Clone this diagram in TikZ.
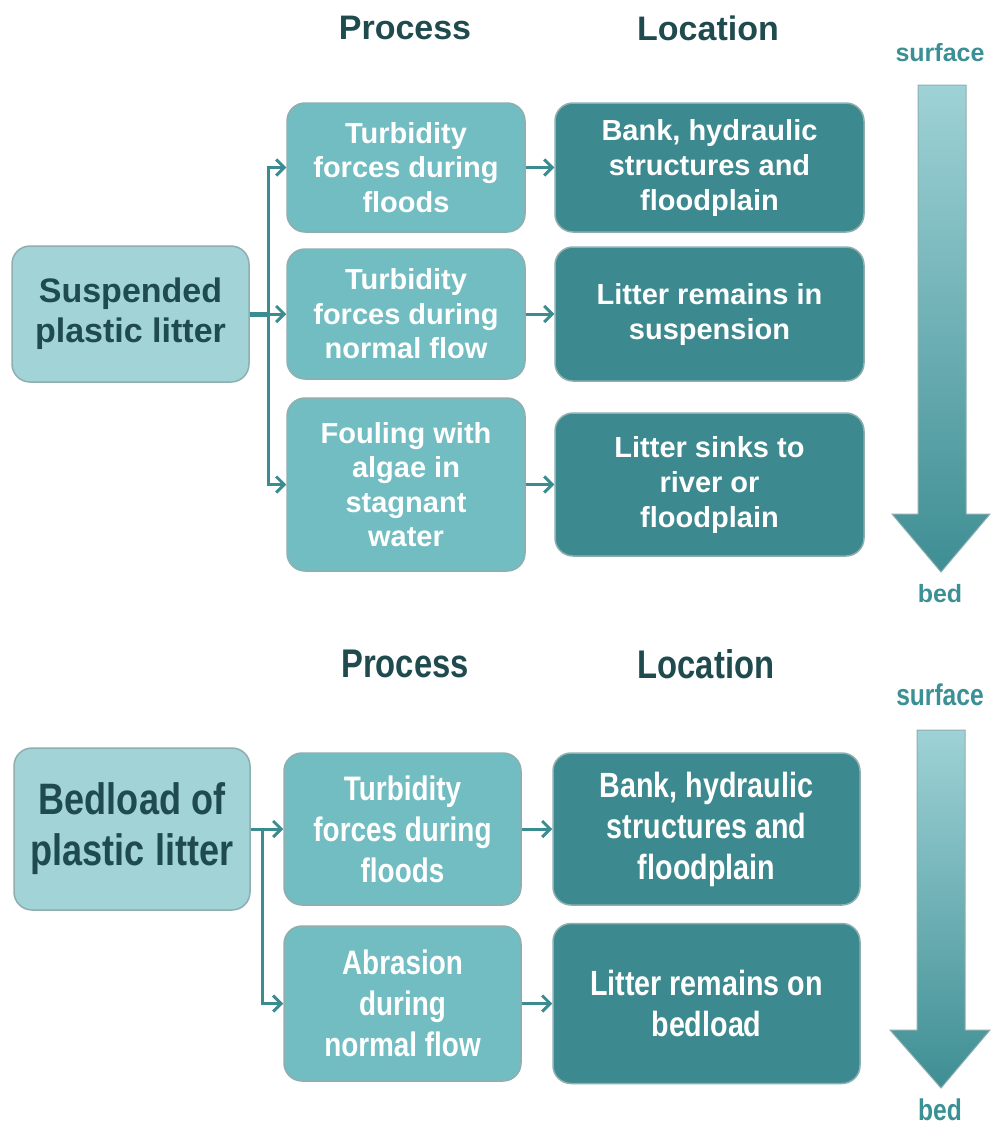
\documentclass[tikz,border=0pt]{standalone}
\usepackage{fontspec}
\setmainfont{Liberation Sans}
\newfontfamily\narrowsf[FakeStretch=0.82]{Liberation Sans}
\usepackage{xcolor}
\usetikzlibrary{shapes,arrows.meta,positioning}

\definecolor{srcfill}{HTML}{A1D3D7}
\definecolor{procfill}{HTML}{71BDC2}
\definecolor{locfill}{HTML}{3C8A8F}
\definecolor{boxline}{HTML}{8EAEB0}
\definecolor{darktxt}{HTML}{1F4A4E}
\definecolor{linkcol}{HTML}{3A8C91}
\definecolor{leveltxt}{HTML}{3A9095}
\definecolor{arrowtop}{HTML}{9ED2D6}
\definecolor{arrowbot}{HTML}{3E8E93}

\begin{document}
\begin{tikzpicture}[x=1pt, y=-1pt, >={Straight Barb[length=8pt,width=16pt]},
    box/.style={draw=boxline, line width=1.5pt, rounded corners=18pt, align=center, inner sep=0pt, font=\bfseries},
    src/.style={box, fill=srcfill, text=darktxt},
    proc/.style={box, fill=procfill, text=white, minimum width=238pt},
    loc/.style={box, fill=locfill, text=white, minimum width=309pt},
    link/.style={draw=linkcol, line width=3pt},
    colhead/.style={text=darktxt, font=\bfseries},
    levellabel/.style={text=leveltxt, font=\bfseries, inner sep=1pt}]
    \useasboundingbox (0,0) rectangle (991,1127);

    % suspended litter
    \node[colhead, font=\bfseries\fontsize{34}{40}\selectfont] (headP1) at (405,28) {Process};
    \node[colhead, font=\bfseries\fontsize{34}{40}\selectfont] (headL1) at (708,28) {Location};
    \node[src, minimum width=237pt, minimum height=136pt, font=\bfseries\fontsize{34}{40}\selectfont] (susp) at (130.5,314) {Suspended\\plastic litter};
    \node[proc, minimum height=129pt, font=\bfseries\fontsize{29}{34.5}\selectfont] (p1) at (406,167.5) {Turbidity\\forces during\\floods};
    \node[proc, minimum height=130pt, below of=p1, node distance=146.5pt, font=\bfseries\fontsize{29}{34.5}\selectfont] (p2) {Turbidity\\forces during\\normal flow};
    \node[proc, minimum height=173pt, below of=p2, node distance=170.5pt, font=\bfseries\fontsize{29}{34.5}\selectfont] (p3) {Fouling with\\algae in\\stagnant\\water};
    \node[loc, minimum height=129pt, right of=p1, node distance=303.5pt, font=\bfseries\fontsize{29}{35}\selectfont] (l1) {Bank, hydraulic\\structures and\\floodplain};
    \node[loc, minimum height=134pt, right of=p2, node distance=303.5pt, font=\bfseries\fontsize{29}{35}\selectfont] (l2) {Litter remains in\\suspension};
    \node[loc, minimum height=143pt, right of=p3, node distance=303.5pt, font=\bfseries\fontsize{29}{35}\selectfont] (l3) {Litter sinks to\\river or\\floodplain};

    \coordinate (jsusp) at (268,314);
    \draw[link, line width=5pt] (susp.east) -- (jsusp);
    \draw[link, ->] (jsusp) |- (p1.west);
    \draw[link, ->] (jsusp) -- (p2.west);
    \draw[link, ->] (jsusp) |- (p3.west);
    \draw[link, ->] (p1) -- (l1);
    \draw[link, ->] (p2) -- (l2);
    \draw[link, ->] (p3) -- (l3);

    \node[levellabel, font=\bfseries\fontsize{25}{30}\selectfont] (surf1) at (940,53) {surface};
    \node[levellabel, font=\bfseries\fontsize{25}{30}\selectfont] (bed1) at (940,594) {bed};
    \shade[top color=arrowtop, bottom color=arrowbot, draw=boxline, line width=1pt]
        (918,85) -- (966,85) -- (966,514) -- (990,514) -- (941,572) -- (892,514) -- (918,514) -- cycle;

    % bedload litter
    \node[colhead, font=\narrowsf\bfseries\fontsize{40}{46}\selectfont] (headP2) at (405,664) {Process};
    \node[colhead, font=\narrowsf\bfseries\fontsize{40}{46}\selectfont] (headL2) at (706,664) {Location};
    \node[src, minimum width=236pt, minimum height=162pt, font=\narrowsf\bfseries\fontsize{44}{51}\selectfont] (bedl) at (132,829) {Bedload of\\plastic litter};
    \node[proc, minimum width=237pt, minimum height=152pt, font=\narrowsf\bfseries\fontsize{34}{41}\selectfont] (q1) at (402.5,829) {Turbidity\\forces during\\floods};
    \node[proc, minimum width=237pt, minimum height=155pt, below of=q1, node distance=174.5pt, font=\narrowsf\bfseries\fontsize{34}{41}\selectfont] (q2) {Abrasion\\during\\normal flow};
    \node[loc, minimum width=307pt, minimum height=152pt, right of=q1, node distance=304pt, font=\narrowsf\bfseries\fontsize{35}{41}\selectfont] (m1) {Bank, hydraulic\\structures and\\floodplain};
    \node[loc, minimum width=307pt, minimum height=160pt, right of=q2, node distance=304pt, font=\narrowsf\bfseries\fontsize{35}{41}\selectfont] (m2) {Litter remains on\\bedload};

    \coordinate (jbed) at (262,829);
    \draw[link, ->] (bedl.east) -- (q1.west);
    \draw[link, ->] (jbed) |- (q2.west);
    \draw[link, ->] (q1) -- (m1);
    \draw[link, ->] (q2) -- (m2);

    \node[levellabel, font=\narrowsf\bfseries\fontsize{30}{36}\selectfont] (surf2) at (940,695) {surface};
    \node[levellabel, font=\narrowsf\bfseries\fontsize{30}{36}\selectfont] (bed2) at (940,1110) {bed};
    \shade[top color=arrowtop, bottom color=arrowbot, draw=boxline, line width=1pt]
        (917,730) -- (965,730) -- (965,1030) -- (990,1030) -- (941,1088) -- (890,1030) -- (917,1030) -- cycle;
\end{tikzpicture}
\end{document}
